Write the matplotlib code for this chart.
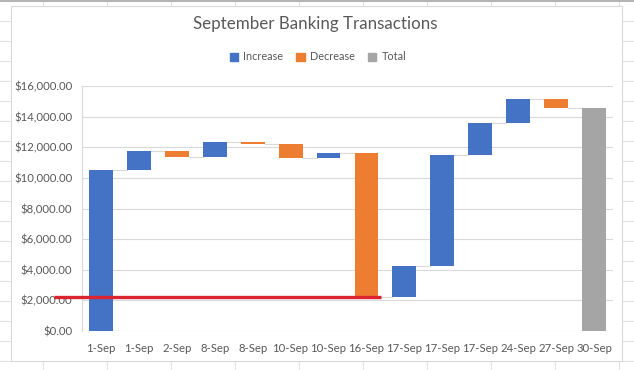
import matplotlib.pyplot as plt
from matplotlib.lines import Line2D
from matplotlib.patches import Rectangle, Patch
from matplotlib.ticker import FuncFormatter

plt.rcParams['font.family'] = ['Lato', 'DejaVu Sans']

# waterfall data
dates = ["1-Sep", "1-Sep", "2-Sep", "8-Sep", "8-Sep", "10-Sep", "10-Sep",
         "16-Sep", "17-Sep", "17-Sep", "17-Sep", "24-Sep", "27-Sep", "30-Sep"]
changes = [10500, 1280, -410, 990, -150, -910, 330,
           -9440, 2030, 7250, 2090, 1590, -610]
is_total = [False] * 13 + [True]
marker_level = 2200  # red line drawn over the chart

c_inc, c_dec, c_tot = "#4472C4", "#ED7D31", "#A5A5A5"
txt = "#595959"
W, H = 634, 370

fig = plt.figure(figsize=(W / 100, H / 100), dpi=100)

def px(x, y):
    return x / W, 1 - y / H

# spreadsheet cells behind the chart
for k in range(19):
    y = 20.5 + 20 * k
    fig.add_artist(Line2D([0, 1], [1 - y / H] * 2, color="#e2e2e2", lw=0.8, zorder=-3))
for k in range(10):
    x = 42.7 + 64 * k
    fig.add_artist(Line2D([x / W] * 2, [0, 1], color="#e2e2e2", lw=0.8, zorder=-3))
fig.add_artist(Line2D([0, 1], [1 - 1.2 / H] * 2, color="#a6a6a6", lw=1.2, zorder=-3))
x0, y0 = px(11, 361)
x1, y1 = px(622, 6)
fig.add_artist(Rectangle((x0, y0), x1 - x0, y1 - y0, transform=fig.transFigure,
                         facecolor="white", edgecolor="#d9d9d9", lw=0.8, zorder=-2))

ax = fig.add_axes([82 / W, 1 - 331 / H, (613 - 82) / W, (331 - 86) / H])
ax.set_facecolor("none")

# build bars
bottoms, heights, colors = [], [], []
level = 0
for i, d in enumerate(dates):
    if is_total[i]:
        bottoms.append(0)
        heights.append(level)
        colors.append(c_tot)
    else:
        ch = changes[i]
        new = level + ch
        bottoms.append(min(level, new))
        heights.append(abs(ch))
        colors.append(c_inc if ch >= 0 else c_dec)
        level = new

xs = list(range(len(dates)))
bw = 0.63
ax.bar(xs, heights, bottom=bottoms, width=bw, color=colors, zorder=3)

# connectors
level = 0
tops = []
for i in range(len(dates)):
    if is_total[i]:
        tops.append(level)
    else:
        level += changes[i]
        tops.append(level)
for i in range(len(dates) - 1):
    ax.plot([i + bw / 2, i + 1 - bw / 2], [tops[i], tops[i]], color="#d9d9d9", lw=0.8, zorder=2)

ax.set_xlim(-0.5, len(dates) - 0.5)
ax.set_ylim(0, 16000)
ax.set_yticks(range(0, 16001, 2000))
ax.yaxis.set_major_formatter(FuncFormatter(lambda v, p: "${:,.2f}".format(v)))
ax.set_xticks(xs)
ax.set_xticklabels(dates)
ax.grid(axis="y", color="#d9d9d9", lw=0.8, zorder=0)
for s in ["top", "right", "bottom"]:
    ax.spines[s].set_visible(False)
ax.spines["left"].set_color("#d9d9d9")
ax.spines["left"].set_linewidth(0.8)
ax.tick_params(length=0, labelsize=8.2, labelcolor=txt)
ax.tick_params(axis="y", pad=7)
ax.tick_params(axis="x", pad=9)

# red marker line
ax.plot([-1.25, 7.38], [marker_level, marker_level], color="#DC2430", lw=2.4,
        solid_capstyle="butt", clip_on=False, zorder=5)

fig.text(315 / W, 1 - 24 / H, "September Banking Transactions", ha="center", va="center",
         fontsize=12.2, color=txt)
handles = [Patch(color=c_inc, label="Increase"), Patch(color=c_dec, label="Decrease"),
           Patch(color=c_tot, label="Total")]
fig.legend(handles=handles, loc="center", bbox_to_anchor=(318 / W, 1 - 57 / H), ncol=3,
           frameon=False, fontsize=7.8, labelcolor=txt, handlelength=0.75, handleheight=0.75,
           handletextpad=0.5, columnspacing=1.2)

fig.savefig("out.png", dpi=100)
